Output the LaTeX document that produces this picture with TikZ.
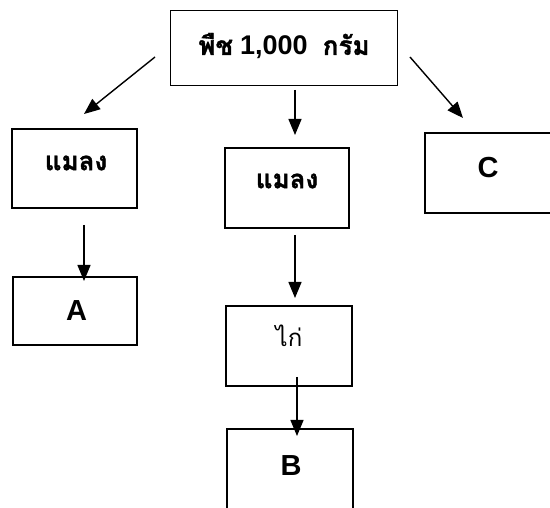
\documentclass[tikz,border=0pt]{standalone}
\usepackage{fontspec}
\newfontfamily\thai[Script=Thai,BoldFeatures={FakeBold=1.2}]{Loma}
\setmainfont{Liberation Sans}
\usetikzlibrary{arrows.meta}
\begin{document}
\begin{tikzpicture}[x=1pt,y=-1pt,
  box/.style={draw,line width=1.8pt,inner sep=0pt},
  arr/.style={line width=1.4pt,-{Triangle[length=16pt,width=13pt]}},
  thb/.style={font=\thai\bfseries\fontsize{26}{30}\selectfont,inner sep=0pt},
  lat/.style={font=\bfseries\fontsize{29}{32}\selectfont,inner sep=0pt}]
\clip (0,0) rectangle (550,508);
\fill[white] (0,0) rectangle (550,508);
\node[box,minimum width=227pt,minimum height=75pt] (top) at (284,48) {};
\node[thb] (toptext) at (284,46) {พืช\hspace{7pt}{\rmfamily\bfseries\fontsize{27}{30}\selectfont 1,000}\hspace{15pt}กรัม};
\node[box,minimum width=125pt,minimum height=79pt] (lm) at (74.5,168.5) {};
\node[thb] (lmtext) at (76,163) {แมลง};
\node[box,minimum width=124pt,minimum height=68pt] (a) at (75,311) {};
\node[lat] (atext) at (76.5,311) {A};
\node[box,minimum width=124pt,minimum height=80pt] (mm) at (287,188) {};
\node[thb] (mmtext) at (287,181) {แมลง};
\node[box,minimum width=126pt,minimum height=80pt] (kai) at (289,346) {};
\node[font=\thai\fontsize{24}{28}\selectfont,inner sep=0pt] (kaitext) at (289,336) {ไก่};
\node[box,minimum width=126pt,minimum height=81pt] (b) at (290,469.5) {};
\node[lat] (btext) at (291,466) {B};
\node[box,minimum width=127pt,minimum height=80pt] (c) at (488.5,173) {};
\node[lat] (ctext) at (488,168) {C};
\coordinate (s1) at (155,57); \coordinate (e1) at (84,114);
\coordinate (s2) at (295,90); \coordinate (e2) at (295,135);
\coordinate (s3) at (410,57); \coordinate (e3) at (463,118);
\coordinate (s4) at (84,225); \coordinate (e4) at (84,281);
\coordinate (s5) at (295,235); \coordinate (e5) at (295,298);
\coordinate (s6) at (297,377); \coordinate (e6) at (297,436);
\draw[arr] (s1) -- (e1);
\draw[arr] (s2) -- (e2);
\draw[arr] (s3) -- (e3);
\draw[arr] (s4) -- (e4);
\draw[arr] (s5) -- (e5);
\draw[arr] (s6) -- (e6);
\end{tikzpicture}
\end{document}
